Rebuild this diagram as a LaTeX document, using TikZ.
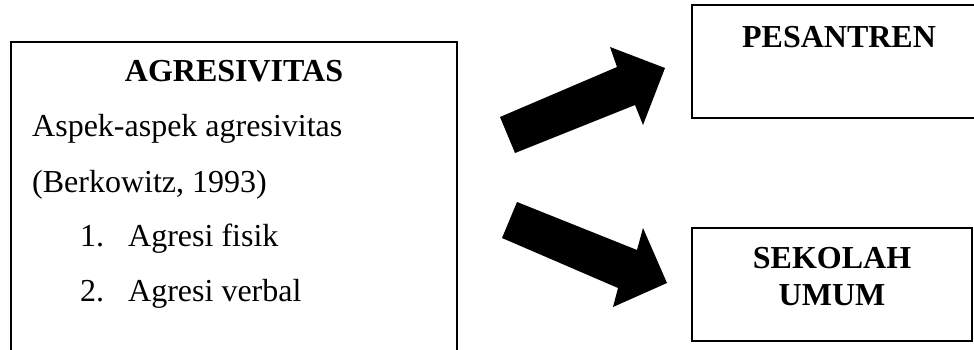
\documentclass[tikz,border=0pt]{standalone}
\usepackage{fontspec}
\setmainfont{Liberation Serif}
\tikzset{
    box/.style={draw=black, line width=1.4pt},
    txt/.style={anchor=base west, inner sep=0pt, font=\fontsize{32}{38}\selectfont},
    head/.style={anchor=base, inner sep=0pt, font=\fontsize{32}{38}\selectfont\bfseries},
    bigarrow/.style={fill=black},
}

\begin{document}
\begin{tikzpicture}[x=1pt,y=-1pt]
\useasboundingbox (0,0) rectangle (974,350);
\clip (0,0) rectangle (974,350);

% left box
\draw [box] (11,360)--(11,42)--(457,42)--(457,360);
\node [head] (agresi) at (234,82) {AGRESIVITAS};
\node [txt] (aspek) at (32,137) {Aspek-aspek agresivitas};
\node [txt] (berk) at (32,192) {(Berkowitz, 1993)};
\node [txt] (num1) at (80,246) {1.};
\node [txt] (fisik) at (128,246) {Agresi fisik};
\node [txt] (num2) at (80,301) {2.};
\node [txt] (verbal) at (128,301) {Agresi verbal};

% right boxes
\draw [box] (692,5) rectangle (990,118);
\node [head] (pesantren) at (839,48) {PESANTREN};

\draw [box] (692,228) rectangle (972,341);
\node [head] (sekolah) at (832,268) {SEKOLAH};
\node [head] (umum) at (832,305) {UMUM};

% block arrows
\fill [bigarrow] (500,117)--(617,67)--(610,47)--(665,68)--(643,125)--(635,105)--(515,153)--cycle;
\fill [bigarrow] (517,202)--(637,250)--(643,228)--(667,283)--(613,307)--(618,288)--(502,238)--cycle;
\end{tikzpicture}
\end{document}
